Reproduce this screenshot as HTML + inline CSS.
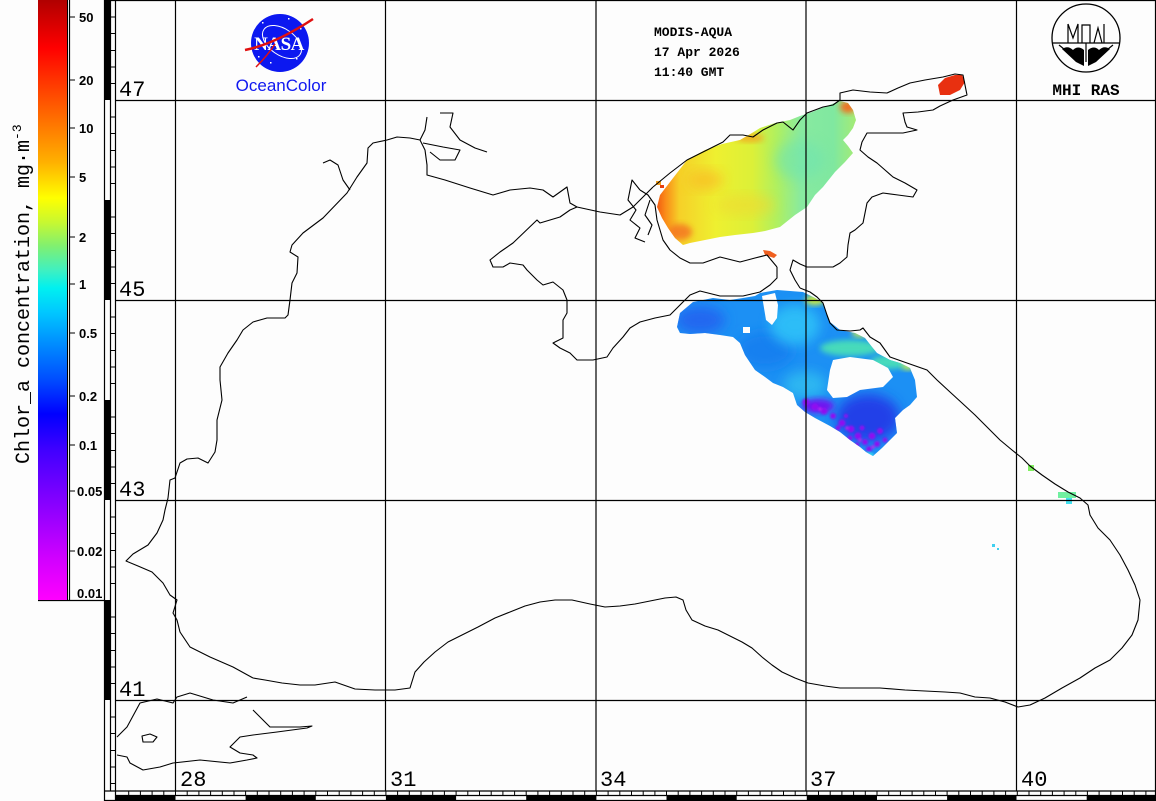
<!DOCTYPE html>
<html><head><meta charset="utf-8"><style>
html,body{margin:0;padding:0;background:#fdfdfd;}
svg{display:block;}
</style></head><body>
<svg width="1156" height="801" viewBox="0 0 1156 801" xmlns="http://www.w3.org/2000/svg">
<defs>
<linearGradient id="cb" x1="0" y1="0" x2="0" y2="1">
<stop offset="0" stop-color="#b00000"/>
<stop offset="0.08" stop-color="#ff0000"/>
<stop offset="0.13" stop-color="#ff3000"/>
<stop offset="0.20" stop-color="#ff7000"/>
<stop offset="0.27" stop-color="#ffb000"/>
<stop offset="0.33" stop-color="#ffff00"/>
<stop offset="0.37" stop-color="#c8f830"/>
<stop offset="0.41" stop-color="#80f070"/>
<stop offset="0.45" stop-color="#40f0c0"/>
<stop offset="0.48" stop-color="#00f0f0"/>
<stop offset="0.52" stop-color="#00c8ff"/>
<stop offset="0.57" stop-color="#0090ff"/>
<stop offset="0.63" stop-color="#0050ff"/>
<stop offset="0.69" stop-color="#0000ff"/>
<stop offset="0.75" stop-color="#4000ff"/>
<stop offset="0.85" stop-color="#9000ff"/>
<stop offset="0.93" stop-color="#d000ff"/>
<stop offset="1" stop-color="#ff00ff"/>
</linearGradient>
<linearGradient id="az" x1="655" y1="0" x2="858" y2="0" gradientUnits="userSpaceOnUse">
<stop offset="0" stop-color="#f05010"/>
<stop offset="0.05" stop-color="#fa8a18"/>
<stop offset="0.12" stop-color="#f6d028"/>
<stop offset="0.3" stop-color="#eef030"/>
<stop offset="0.48" stop-color="#dcf038"/>
<stop offset="0.6" stop-color="#b0f060"/>
<stop offset="0.72" stop-color="#88eaa0"/>
<stop offset="0.88" stop-color="#80e8a0"/>
<stop offset="1" stop-color="#a8ec70"/>
</linearGradient>
<filter id="bl" x="-30%" y="-30%" width="160%" height="160%"><feGaussianBlur stdDeviation="6"/></filter>
<filter id="bl2" x="-30%" y="-30%" width="160%" height="160%"><feGaussianBlur stdDeviation="3"/></filter>
<filter id="bl1" x="-30%" y="-30%" width="160%" height="160%"><feGaussianBlur stdDeviation="1"/></filter>
<clipPath id="azc"><path d="M657,207 L660,195 L670,182 L687,160 L705,150 L722,144 L740,140 L752,133 L760,128 L775,123 L790,120 L800,116 L812,112 L822,108 L832,104 L840,101 L848,103 L853,110 L856,120 L853,128 L848,135 L843,140 L848,146 L853,153 L845,162 L835,172 L823,187 L815,195 L807,207 L795,215 L780,227 L765,231 L753,233 L735,235 L720,237 L705,240 L690,243 L683,245 L675,238 L668,228 L662,218 Z"/></clipPath>
<clipPath id="sec"><path d="M677,327 L680,313 L693,302 L713,298 L730,300 L743,298 L755,296 L760,293 L777,290 L790,291 L803,292 L815,298 L823,303 L827,315 L830,322 L840,330 L855,333 L865,338 L872,347 L877,353 L890,360 L900,363 L910,368 L915,380 L917,397 L910,405 L903,410 L895,418 L897,433 L890,440 L882,448 L873,456 L866,452 L860,447 L850,440 L840,432 L830,426 L815,418 L805,412 L797,405 L793,393 L783,387 L773,383 L765,377 L755,370 L745,355 L740,343 L733,337 L720,335 L705,333 L690,334 L680,333 Z"/></clipPath>
</defs>

<rect x="0" y="0" width="1156" height="801" fill="#fdfdfd"/>

<!-- Azov chlorophyll patch -->
<g clip-path="url(#azc)">
<rect x="650" y="95" width="210" height="155" fill="url(#az)"/>
<ellipse cx="705" cy="180" rx="18" ry="10" fill="#f8c028" filter="url(#bl)" opacity="0.8"/>
<ellipse cx="680" cy="232" rx="12" ry="8" fill="#f47020" filter="url(#bl2)" opacity="0.8"/>
<ellipse cx="750" cy="138" rx="14" ry="4" fill="#f4a020" filter="url(#bl2)" opacity="0.8"/>
<ellipse cx="848" cy="107" rx="8" ry="6" fill="#f07020" filter="url(#bl2)"/>
<ellipse cx="745" cy="205" rx="30" ry="10" fill="#f0d830" filter="url(#bl)" opacity="0.6"/>
<ellipse cx="800" cy="160" rx="25" ry="20" fill="#70e4b0" filter="url(#bl)" opacity="0.6"/>
</g>
<path d="M938,85 L945,78 L955,75 L962,75 L965,82 L960,90 L950,95 L940,95 Z" fill="#e83010"/>
<path d="M763,250 L770,251 L777,255 L774,258 L765,255 Z" fill="#f06020"/>
<rect x="656" y="181" width="5" height="4" fill="#f0a020"/>
<rect x="660" y="185" width="4" height="3" fill="#e84010"/>

<!-- SE chlorophyll patch -->
<g clip-path="url(#sec)">
<rect x="670" y="285" width="255" height="175" fill="#1c90f4"/>
<ellipse cx="700" cy="320" rx="25" ry="14" fill="#2068f0" filter="url(#bl)"/>
<ellipse cx="765" cy="350" rx="28" ry="18" fill="#1880f0" filter="url(#bl)"/>
<ellipse cx="795" cy="325" rx="25" ry="20" fill="#30c8f8" filter="url(#bl)" opacity="0.8"/>
<ellipse cx="805" cy="385" rx="22" ry="14" fill="#30c0f0" filter="url(#bl)" opacity="0.8"/>
<ellipse cx="850" cy="348" rx="30" ry="8" fill="#50e8b0" filter="url(#bl2)" opacity="0.85"/>
<ellipse cx="890" cy="362" rx="20" ry="7" fill="#50e8b0" filter="url(#bl2)" opacity="0.85"/>
<ellipse cx="868" cy="418" rx="32" ry="24" fill="#2040e8" filter="url(#bl)"/>
<ellipse cx="818" cy="406" rx="16" ry="7" fill="#7018f0" filter="url(#bl2)"/>
<g fill="#9010f0" filter="url(#bl1)">
<circle cx="806" cy="402" r="3.5"/><circle cx="815" cy="407" r="3.5"/><circle cx="824" cy="411" r="3.5"/><circle cx="833" cy="416" r="3"/>
<circle cx="842" cy="423" r="3.5"/><circle cx="851" cy="429" r="3.5"/><circle cx="858" cy="436" r="3.5"/><circle cx="865" cy="442" r="3"/>
<circle cx="872" cy="436" r="3.5"/><circle cx="880" cy="431" r="3"/><circle cx="869" cy="449" r="3"/><circle cx="877" cy="444" r="3"/>
<circle cx="850" cy="438" r="2.5"/><circle cx="838" cy="428" r="2.5"/><circle cx="885" cy="440" r="2.5"/><circle cx="862" cy="428" r="2.5"/>
<circle cx="857" cy="445" r="2.5"/><circle cx="846" cy="416" r="2"/>
</g>
<g fill="#c020f0" filter="url(#bl1)">
<circle cx="860" cy="440" r="1.8"/><circle cx="847" cy="428" r="1.8"/><circle cx="873" cy="447" r="1.8"/><circle cx="820" cy="409" r="1.8"/>
</g>
<ellipse cx="815" cy="300" rx="10" ry="5" fill="#d0f040" filter="url(#bl2)"/>
<ellipse cx="860" cy="333" rx="8" ry="4" fill="#c8f048" filter="url(#bl2)"/>
<ellipse cx="908" cy="366" rx="6" ry="4" fill="#c8f048" filter="url(#bl2)"/>
<ellipse cx="868" cy="455" rx="6" ry="3" fill="#30d0f0" filter="url(#bl1)"/>
</g>
<path d="M762,296 L775,293 L778,305 L777,318 L772,325 L766,320 L764,308 Z" fill="#fdfdfd"/>
<path d="M833,360 L850,357 L873,360 L888,368 L893,377 L883,387 L860,390 L847,397 L833,398 L827,390 L830,370 Z" fill="#fdfdfd"/>
<rect x="743" y="327" width="7" height="6" fill="#fdfdfd"/>
<rect x="1028" y="465" width="6" height="6" fill="#80f060"/>
<rect x="1058" y="492" width="18" height="6" fill="#70f0a0"/>
<rect x="1066" y="498" width="6" height="6" fill="#40e0f0"/>
<rect x="992" y="544" width="3" height="3" fill="#40d0f0"/>
<rect x="997" y="548" width="2" height="2" fill="#40d0f0"/>

<!-- grid -->
<g stroke="#000" stroke-width="1.2" fill="none">
<line x1="115" y1="100.5" x2="1156" y2="100.5"/>
<line x1="115" y1="300.5" x2="1156" y2="300.5"/>
<line x1="115" y1="500.5" x2="1156" y2="500.5"/>
<line x1="115" y1="700.5" x2="1156" y2="700.5"/>
<line x1="175.5" y1="0" x2="175.5" y2="791"/>
<line x1="385.5" y1="0" x2="385.5" y2="791"/>
<line x1="596" y1="0" x2="596" y2="791"/>
<line x1="806" y1="0" x2="806" y2="791"/>
<line x1="1016.5" y1="0" x2="1016.5" y2="791"/>
</g>

<!-- coastlines -->
<g stroke="#000" stroke-width="1.1" fill="none" stroke-linejoin="round">
<path d="M253,678 L233,667 L210,657 L190,647 L180,632 L177,620 L173,613 L177,600 L170,595 L163,583 L152,572 L138,566 L126,561 L133,554 L148,545 L157,533 L163,520 L165,510 L168,498 L170,480 L175,478 L180,463 L187,459 L198,458 L208,463 L215,452 L217,440 L217,420 L222,400 L220,380 L220,367 L228,353 L237,340 L243,330 L253,322 L267,318 L285,318 L288,315 L290,300 L292,283 L297,273 L298,257 L290,252 L292,245 L303,233 L323,218 L347,193 L357,177 L367,163 L368,148 L373,143 L387,140 L397,137 L410,138 L420,140 L425,150 L427,165 L427,175 L445,180 L470,188 L493,195 L510,190 L530,188 L543,190 L553,197 L567,187 L570,203 L577,207 L570,210 L560,217 L540,223 L537,220 L513,243 L500,252 L490,260 L493,267 L503,267 L510,263 L523,265 L527,270 L537,280 L543,285 L553,282 L563,290 L567,300 L567,313 L563,320 L563,338 L553,343 L560,348 L570,353 L577,360 L593,360 L607,357 L613,348 L623,337 L630,328 L640,322 L655,318 L670,315 L680,305 L690,295 L700,291 L720,296 L743,296 L760,292 L770,285 L777,278 L777,267"/>
<path d="M800,288 L810,292 L817,297 L823,303 L827,315 L830,323 L837,330 L850,331 L860,330 L863,328 L870,337 L880,343 L890,357 L907,363 L927,370 L937,380 L950,392 L962,403 L975,415 L988,428 L1000,440 L1012,450 L1022,458 L1030,466 L1042,475 L1055,484 L1068,492 L1080,498 L1088,505 L1090,515 L1098,528 L1110,540 L1120,555 L1128,570 L1135,585 L1140,600 L1138,620 L1132,635 L1122,648 L1110,660 L1095,668 L1080,678 L1062,688 L1045,698 L1030,705 L1018,707 L1005,702 L990,698 L975,697 L960,693 L945,692 L925,691 L905,690 L880,688 L860,688 L840,688 L825,686 L808,683 L795,678 L782,672 L772,665 L762,657 L752,648 L742,642 L730,636 L718,630 L705,626 L692,620 L686,610 L683,600 L676,597 L665,598 L650,601 L635,604 L620,606 L605,607 L590,604 L572,600 L555,600 L540,602 L525,606 L510,612 L495,618 L478,627 L462,635 L448,642 L435,652 L424,662 L415,672 L410,688 L395,690 L375,690 L355,689 L335,682 L315,685 L300,685 L282,683 L265,680 L253,678"/>
<path d="M777,267 L767,255 L755,258 L740,262 L720,257 L703,263 L690,263 L680,258 L670,250 L663,240 L657,220 L655,205 L648,195 L640,190 M653,187 L670,173 L687,160 L707,150 L723,142 L730,135 L743,135 L753,137 L763,130 L777,123 L783,122 L793,130 L800,120 L807,113 L823,107 L833,105 L840,100 L840,93 L853,90 L870,92 L887,93 L898,88 L910,83 L925,80 L943,77 L955,74 L963,75 L965,85 L967,95 L953,100 L940,106 L933,110 L918,112 L903,113 L905,122 L907,127 L917,130 L903,133 L885,133 L867,133 L862,142 L860,150 L868,157 L877,163 L885,170 L893,177 L905,183 L917,190 L913,197 L898,195 L883,193 L872,197 L867,203 L865,213 L863,223 L855,230 L850,233 L848,245 L847,257 L840,263 L833,267 L820,267 L807,267 L800,264 L793,260 L790,270 L795,280 L800,288"/>
<path d="M577,207 L600,212 L620,215 L633,207 L645,195 L653,187 M640,190 L632,180 L628,200 L636,210 L630,220 L640,228 L635,238 L645,242 M650,200 L645,215 L652,225 L648,235"/>
<path d="M420,140 L425,130 L427,117 M440,113 L453,113 L450,127 L460,140 L475,148 L487,152 M423,143 L443,147 L460,150 L455,160 L440,160 L430,152"/>
<path d="M323,163 L330,160 L338,165 L343,180 L350,190"/>
<path d="M117,737 L127,727 L140,703 L157,699 L173,703 L177,697 L190,693 L213,700 L233,703 L247,697 M253,710 L263,720 L270,727 L283,727 L300,727 L312,726 L307,728 L277,732 L253,735 L240,737 L230,747 L240,753 L253,755 L257,758 L247,760 L230,763 L200,760 L173,763 L160,767 L143,770 L130,763 L127,757 L117,755"/>
<path d="M142,736 L150,734 L157,737 L153,742 L143,742 Z"/>
</g>

<!-- frame -->
<g stroke="#000" fill="none" stroke-width="1.2">
<line x1="104" y1="0.5" x2="1156" y2="0.5"/>
<line x1="1155.5" y1="0" x2="1155.5" y2="801"/>
<line x1="115.5" y1="0" x2="115.5" y2="801"/>
<line x1="104.5" y1="0" x2="104.5" y2="801"/>
<line x1="110.5" y1="0" x2="110.5" y2="791"/>
<line x1="104" y1="791" x2="1156" y2="791"/>
<line x1="115" y1="795.5" x2="1156" y2="795.5"/>
<line x1="104" y1="800.5" x2="1156" y2="800.5"/>
<line x1="38" y1="600.5" x2="105" y2="600.5"/>
</g>
<g fill="#000">
<rect x="105" y="0" width="6" height="100"/>
<rect x="105" y="200" width="6" height="100"/>
<rect x="105" y="400" width="6" height="100"/>
<rect x="105" y="600" width="6" height="100"/>
<rect x="115" y="796" width="60.5" height="5"/>
<rect x="245.6" y="796" width="70.2" height="5"/>
<rect x="385.9" y="796" width="70.2" height="5"/>
<rect x="526.2" y="796" width="70.2" height="5"/>
<rect x="666.5" y="796" width="70.2" height="5"/>
<rect x="806.8" y="796" width="70.2" height="5"/>
<rect x="947.1" y="796" width="69.4" height="5"/>
<rect x="1086.7" y="796" width="69.3" height="5"/>
</g>
<g stroke="#000" stroke-width="1">
<path d="M111,17 H115 M111,33.5 H115 M111,50.5 H115 M111,67 H115 M111,83.5 H115 M111,117 H115 M111,133.5 H115 M111,150.5 H115 M111,167 H115 M111,183.5 H115 M111,217 H115 M111,233.5 H115 M111,250.5 H115 M111,267 H115 M111,283.5 H115 M111,317 H115 M111,333.5 H115 M111,350.5 H115 M111,367 H115 M111,383.5 H115 M111,417 H115 M111,433.5 H115 M111,450.5 H115 M111,467 H115 M111,483.5 H115 M111,517 H115 M111,533.5 H115 M111,550.5 H115 M111,567 H115 M111,583.5 H115 M111,617 H115 M111,633.5 H115 M111,650.5 H115 M111,667 H115 M111,683.5 H115 M111,717 H115 M111,733.5 H115 M111,750.5 H115 M111,767 H115 M111,783.5 H115"/>
<path d="M128.7,791 V795 M140.4,791 V795 M152.1,791 V795 M163.8,791 V795 M175.5,791 V795 M187.2,791 V795 M198.9,791 V795 M210.6,791 V795 M222.3,791 V795 M234,791 V795 M245.6,791 V795 M257.3,791 V795 M269,791 V795 M280.7,791 V795 M292.4,791 V795 M304.1,791 V795 M315.8,791 V795 M327.5,791 V795 M339.2,791 V795 M350.9,791 V795 M362.6,791 V795 M374.3,791 V795 M385.9,791 V795 M397.6,791 V795 M409.3,791 V795 M421,791 V795 M432.7,791 V795 M444.4,791 V795 M456.1,791 V795 M467.8,791 V795 M479.5,791 V795 M491.2,791 V795 M502.9,791 V795 M514.6,791 V795 M526.2,791 V795 M537.9,791 V795 M549.6,791 V795 M561.3,791 V795 M573,791 V795 M584.7,791 V795 M596.4,791 V795 M608.1,791 V795 M619.8,791 V795 M631.5,791 V795 M643.2,791 V795 M654.9,791 V795 M666.5,791 V795 M678.2,791 V795 M689.9,791 V795 M701.6,791 V795 M713.3,791 V795 M725,791 V795 M736.7,791 V795 M748.4,791 V795 M760.1,791 V795 M771.8,791 V795 M783.5,791 V795 M795.2,791 V795 M806.8,791 V795 M818.5,791 V795 M830.2,791 V795 M841.9,791 V795 M853.6,791 V795 M865.3,791 V795 M877,791 V795 M888.7,791 V795 M900.4,791 V795 M912.1,791 V795 M923.8,791 V795 M935.5,791 V795 M947.1,791 V795 M958.8,791 V795 M970.5,791 V795 M982.2,791 V795 M993.9,791 V795 M1005.6,791 V795 M1017.3,791 V795 M1029,791 V795 M1040.7,791 V795 M1052.4,791 V795 M1064.1,791 V795 M1075.8,791 V795 M1087.4,791 V795 M1099.1,791 V795 M1110.8,791 V795 M1122.5,791 V795 M1134.2,791 V795 M1145.9,791 V795"/>
</g>

<!-- colorbar -->
<rect x="38" y="0" width="29" height="600" fill="url(#cb)"/>
<line x1="67.5" y1="0" x2="67.5" y2="600" stroke="#000" stroke-width="1"/>
<line x1="69.5" y1="0" x2="69.5" y2="600" stroke="#000" stroke-width="1.2"/>
<g stroke="#000" stroke-width="1">
<path d="M70,17 H75 M70,80 H75 M70,128 H75 M70,177 H75 M70,237 H75 M70,284 H75 M70,333 H75 M70,396 H75 M70,445 H75 M70,491 H75 M70,551 H75"/>
</g>
<g font-family="'Liberation Sans', Arial, sans-serif" font-weight="bold" font-size="13" fill="#000">
<text x="79" y="22">50</text>
<text x="79" y="85">20</text>
<text x="79" y="133">10</text>
<text x="79" y="182">5</text>
<text x="79" y="242">2</text>
<text x="79" y="289">1</text>
<text x="79" y="338">0.5</text>
<text x="79" y="401">0.2</text>
<text x="79" y="450">0.1</text>
<text x="77" y="496">0.05</text>
<text x="77" y="556">0.02</text>
<text x="77" y="598">0.01</text>
</g>
<text transform="translate(29,464) rotate(-90)" font-family="'Liberation Mono', monospace" font-size="20" fill="#000">Chlor_a concentration, mg·m<tspan font-size="13" dy="-8">-3</tspan></text>

<!-- axis labels -->
<g font-family="'Liberation Mono', monospace" font-size="22" fill="#000">
<text x="119" y="96">47</text>
<text x="119" y="296">45</text>
<text x="119" y="496">43</text>
<text x="119" y="696">41</text>
<text x="180" y="786">28</text>
<text x="390" y="786">31</text>
<text x="600" y="786">34</text>
<text x="810" y="786">37</text>
<text x="1021" y="786">40</text>
</g>

<!-- header -->
<g font-family="'Liberation Mono', monospace" font-weight="bold" font-size="13" fill="#000">
<text x="654" y="36">MODIS-AQUA</text>
<text x="654" y="56">17 Apr 2026</text>
<text x="654" y="76">11:40 GMT</text>
</g>

<!-- NASA logo -->
<circle cx="280" cy="43" r="29" fill="#0c18f0"/>
<ellipse cx="282" cy="42" rx="22" ry="13" fill="none" stroke="#fff" stroke-width="1" transform="rotate(35 282 42)"/>
<g fill="#fff"><rect x="262" y="22" width="1.5" height="1.5"/><rect x="296" y="58" width="1.5" height="1.5"/><rect x="270" y="62" width="1.5" height="1.5"/><rect x="300" y="28" width="1.5" height="1.5"/><rect x="288" y="18" width="1.5" height="1.5"/><rect x="258" y="56" width="1.5" height="1.5"/></g>
<text x="279" y="50" text-anchor="middle" font-family="'Liberation Serif', serif" font-weight="bold" font-size="19" fill="#fff" letter-spacing="-0.5">NASA</text>
<path d="M245,50 Q275,44 313,19" fill="none" stroke="#e01010" stroke-width="2.5"/>
<path d="M275,44 Q268,55 256,67" fill="none" stroke="#e01010" stroke-width="1.5"/>
<text x="281" y="91" text-anchor="middle" font-family="'Liberation Sans', Arial, sans-serif" font-size="17" fill="#1018f0">OceanColor</text>

<!-- MHI RAS logo -->
<circle cx="1086" cy="38" r="34" fill="none" stroke="#000" stroke-width="1.3"/>
<g stroke="#000" stroke-width="1.2" fill="none">
<path d="M1053,43 H1119"/>
<path d="M1068,43 V24 M1068,24 L1073,38 L1078,24 V43"/>
<path d="M1082,43 V25 H1090 V43"/>
<path d="M1094,43 L1098,28 L1102,43 M1104,24 V43"/>
<path d="M1059,45 L1080,62 M1113,45 L1092,62 M1086,43 V62"/>
</g>
<path d="M1062,49 Q1068,45 1073,50 Q1078,45 1084,50 L1084,66 L1076,62 Z" fill="#000"/>
<path d="M1088,50 Q1094,45 1099,50 Q1104,45 1110,49 L1096,62 L1088,66 Z" fill="#000"/>
<text x="1086" y="95" text-anchor="middle" font-family="'Liberation Mono', monospace" font-weight="bold" font-size="16" fill="#000">MHI RAS</text>
</svg>
</body></html>
